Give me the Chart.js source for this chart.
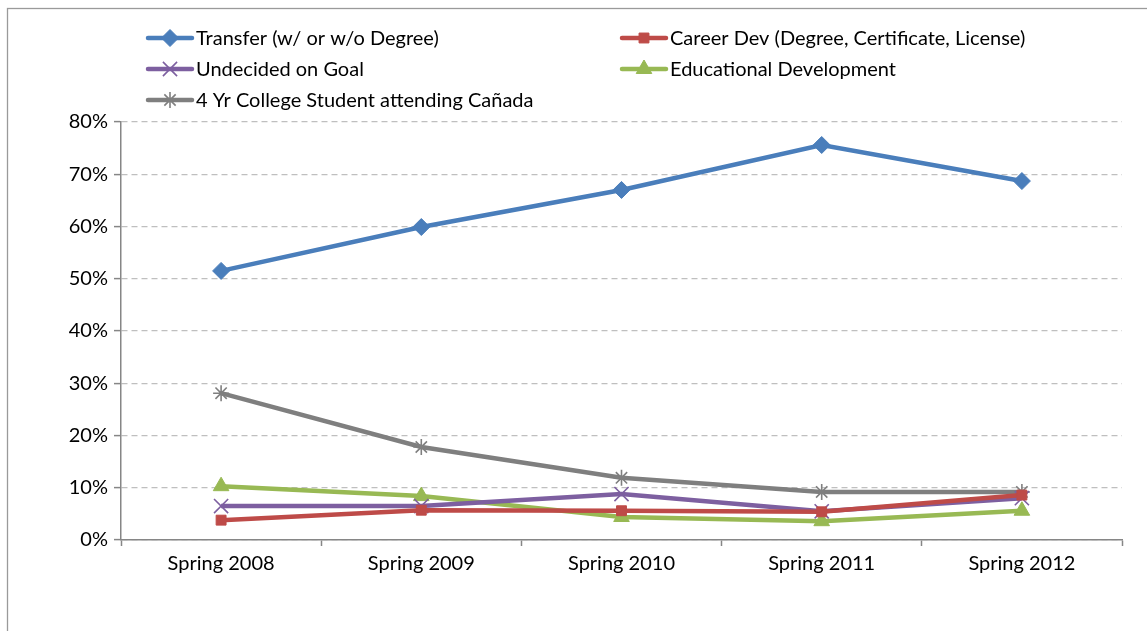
<!DOCTYPE html>
<html>
<head>
<meta charset="utf-8">
<script src="https://cdn.jsdelivr.net/npm/chart.js@4"></script>
<style>
  html, body { margin: 0; padding: 0; background: #fff; }
  #wrap { width: 1147px; height: 631px; position: relative; }
</style>
</head>
<body>
<div id="wrap"><canvas id="goalChart" width="1147" height="631"></canvas></div>
<script>
// terms on the x axis
const terms = ["Spring 2008", "Spring 2009", "Spring 2010", "Spring 2011", "Spring 2012"];

// percent of students per educational goal
const transfer = [51.5, 59.9, 67.0, 75.6, 68.7];
const careerDev = [3.8, 5.7, 5.6, 5.4, 8.6];
const undecided = [6.5, 6.5, 8.8, 5.5, 8.0];
const eduDev = [10.3, 8.4, 4.4, 3.6, 5.6];
const fourYr = [28.1, 17.8, 11.9, 9.2, 9.2];

const seriesNames = [
    "Transfer (w/ or w/o Degree)",
    "Career Dev (Degree, Certificate, License)",
    "Undecided on Goal",
    "Educational Development",
    "4 Yr College Student attending Cañada"
];

const FONT = "Lato, 'Liberation Sans', sans-serif";

function makeSet(label, data, color, style, radius) {
    const thin = (style === "crossRot" || style === "star");
    return {
        label: label,
        data: data,
        borderColor: color,
        backgroundColor: color,
        borderWidth: 4.5,
        pointStyle: style,
        pointRadius: radius,
        pointHoverRadius: radius,
        pointBorderWidth: thin ? 1.6 : 1,
        pointBorderColor: color,
        pointBackgroundColor: color,
        tension: 0
    };
}

// legend in two columns, like the original
const legendPlugin = {
    id: "twoColLegend",
    afterDraw(chart) {
        const ctx = chart.ctx;
        ctx.save();
        ctx.font = "20px " + FONT;
        ctx.textBaseline = "middle";
        chart.data.datasets.forEach((ds, i) => {
            const col = i % 2, row = Math.floor(i / 2);
            const x = col === 0 ? 148 : 622;
            const y = 38 + row * 31;
            ctx.strokeStyle = ds.borderColor;
            ctx.fillStyle = ds.borderColor;
            ctx.lineWidth = 4.5;
            ctx.lineCap = "round";
            ctx.beginPath();
            ctx.moveTo(x, y);
            ctx.lineTo(x + 44, y);
            ctx.stroke();
            ctx.lineCap = "butt";
            ctx.lineWidth = ds.pointBorderWidth;
            Chart.helpers.drawPoint(ctx, {
                pointStyle: ds.pointStyle,
                radius: ds.pointRadius,
                borderWidth: ds.pointBorderWidth
            }, x + 22, y);
            ctx.fillStyle = "#000";
            ctx.fillText(ds.label, x + 48, y + 1);
        });
        ctx.restore();
    }
};

// outer border of the chart box
const borderPlugin = {
    id: "outerBorder",
    beforeDraw(chart) {
        const ctx = chart.ctx;
        ctx.save();
        ctx.fillStyle = "#fff";
        ctx.fillRect(0, 0, chart.width, chart.height);
        ctx.strokeStyle = "#9a9a9a";
        ctx.lineWidth = 1.3;
        ctx.strokeRect(7.5, 8.5, chart.width + 10, chart.height + 10);
        ctx.restore();
    }
};

const ctx = document.getElementById("goalChart").getContext("2d");

new Chart(ctx, {
    type: "line",
    data: {
        labels: terms,
        datasets: [
            makeSet(seriesNames[0], transfer, "#4A7EBB", "rectRot", 8.5),
            makeSet(seriesNames[1], careerDev, "#BE4B48", "rect", 7),
            makeSet(seriesNames[2], undecided, "#7D5FA0", "crossRot", 10),
            makeSet(seriesNames[3], eduDev, "#98B954", "triangle", 9),
            makeSet(seriesNames[4], fourYr, "#7F7F7F", "star", 8)
        ]
    },
    options: {
        responsive: false,
        animation: false,
        layout: { padding: { left: 0, right: 25, top: 122, bottom: 0 } },
        plugins: {
            legend: { display: false },
            tooltip: { enabled: false }
        },
        scales: {
            x: {
                offset: true,
                grid: {
                    offset: true,
                    drawOnChartArea: false,
                    drawTicks: true,
                    tickLength: 6,
                    tickColor: "#868686",
                    tickWidth: 1.5
                },
                border: { color: "#868686", width: 1.5 },
                ticks: {
                    color: "#000",
                    font: { family: FONT, size: 20 },
                    padding: 6
                },
                afterFit(scale) { scale.height = 91; }
            },
            y: {
                min: 0,
                max: 80,
                grid: {
                    color: "#BFBFBF",
                    lineWidth: 1.2,
                    tickColor: "#868686",
                    tickLength: 7,
                    tickBorderDash: [],
                    tickWidth: 1.5
                },
                border: { color: "#868686", width: 1.5, dash: [6, 4] },
                ticks: {
                    stepSize: 10,
                    color: "#000",
                    font: { family: FONT, size: 20 },
                    padding: 6,
                    callback: v => v + "%"
                },
                afterFit(scale) { scale.width = 121; }
            }
        }
    },
    plugins: [borderPlugin, legendPlugin]
});
</script>
</body>
</html>
